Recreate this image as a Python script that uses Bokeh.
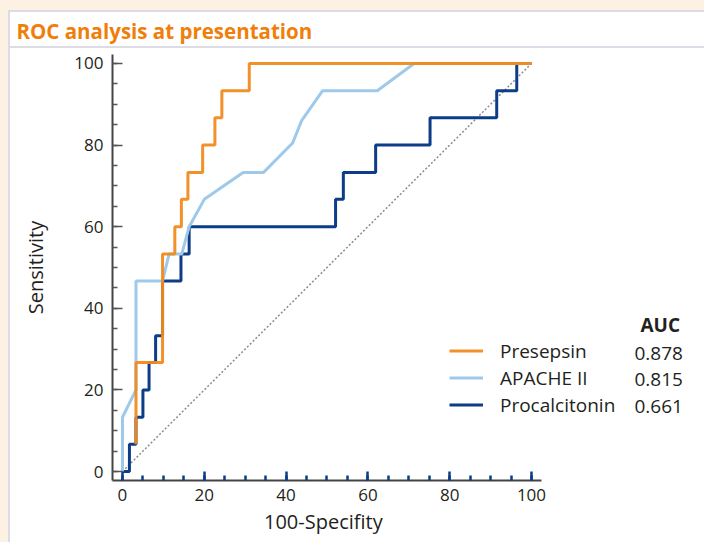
from bokeh.plotting import figure
from bokeh.models import Range1d, SingleIntervalTicker, Legend, LegendItem, Label, Title
from bokeh.embed import file_html
from bokeh.resources import INLINE

# ---------------- data ----------------
presepsin_x = [3.3, 3.3, 9.8, 9.8, 12.8, 12.8, 14.4, 14.4, 16.0, 16.0, 19.6, 19.6, 22.6, 22.6, 24.3, 24.3, 31.0, 31.0, 100]
presepsin_y = [6.7, 26.7, 26.7, 53.3, 53.3, 60.0, 60.0, 66.7, 66.7, 73.3, 73.3, 80.0, 80.0, 86.7, 86.7, 93.3, 93.3, 100, 100]

apache_x = [0, 0, 3.3, 3.3, 9.8, 11.4, 14.5, 16.3, 20.0, 29.5, 34.5, 41.6, 43.8, 48.9, 62.3, 71.3, 100]
apache_y = [0, 13.3, 20.0, 46.7, 46.7, 53.3, 53.3, 60.0, 66.7, 73.3, 73.3, 80.5, 86.0, 93.3, 93.3, 100, 100]

pct_x = [0, 1.7, 1.7, 3.3, 3.3, 5.0, 5.0, 6.5, 6.5, 8.1, 8.1, 9.8, 9.8, 14.3, 14.3, 16.3, 16.3, 52.1, 52.1, 54.0, 54.0, 61.9, 61.9, 75.2, 75.2, 91.5, 91.5, 96.4, 96.4, 100]
pct_y = [0, 0, 6.7, 6.7, 13.3, 13.3, 20.0, 20.0, 26.7, 26.7, 33.3, 33.3, 46.7, 46.7, 53.3, 53.3, 60.0, 60.0, 66.7, 66.7, 73.3, 73.3, 80.0, 80.0, 86.7, 86.7, 93.3, 93.3, 100, 100]

diag_x = [0, 100]
diag_y = [0, 100]

series_names = ["Presepsin", "APACHE II", "Procalcitonin"]
auc_values = ["0.878", "0.815", "0.661"]

title_text = "ROC analysis at presentation"
x_label = "100-Specifity"
y_label = "Sensitivity"

# ---------------- style ----------------
ORANGE = "#f18a1e"
LIGHT = "#9fc9ea"
DARK = "#0d3d87"
TXT = "#231f20"
AXC = "#444444"
PANEL = "#dcdce6"
PEACH = "#fdf1e3"
FONT = "Open Sans"

W, H = 704, 542
FL, FR, FT, FB = 112, 704, 54, 480   # frame edges in canvas px
PXU = 4.09                            # px per unit (x)
X0 = -2.44
X1 = X0 + (FR - FL) / PXU
XAXIS_END = 102.5
Y0, Y1 = -2.2, 102.2


def dx(cx):
    return X0 + (cx - FL) / PXU


def dy(cy):
    return Y0 + (FB - cy) / (FB - FT) * (Y1 - Y0)


p = figure(width=W, height=H, x_range=Range1d(X0, X1), y_range=Range1d(Y0, Y1),
           output_backend="svg", toolbar_location=None,
           min_border_left=FL, min_border_right=W - FR,
           min_border_top=FT, min_border_bottom=H - FB)
p.background_fill_color = "white"
p.border_fill_color = None
p.outline_line_color = None
p.xgrid.visible = False
p.ygrid.visible = False

# page panel decoration (peach page, white panel with lavender borders and header rule)
p.styles = {
    "background-color": PEACH,
    "background-image": ", ".join([f"linear-gradient({PANEL},{PANEL})"] * 3 + ["linear-gradient(#ffffff,#ffffff)"]),
    "background-position": "8px 46px, 8px 10px, 8px 10px, 10px 12px",
    "background-size": "100% 2px, 100% 2px, 2px 100%, 100% 100%",
    "background-repeat": "no-repeat",
}

# title
p.title.text = title_text
p.title.text_font = FONT
p.title.text_font_size = "20.5px"
p.title.text_font_style = "bold"
p.title.text_color = "#ef7f0a"
p.title.align = "left"
p.title.offset = 17 - FL - 1
p.title.standoff = 19

# axes
for ax in (p.xaxis, p.yaxis):
    ax.ticker = SingleIntervalTicker(interval=20, num_minor_ticks=4)
    ax.axis_line_color = AXC
    ax.axis_line_width = 2
    ax.major_tick_out = 0
    ax.minor_tick_out = 0
    ax.major_label_text_font = FONT
    ax.major_label_text_font_size = "17px"
    ax.major_label_text_color = TXT
    ax.axis_label_text_font = FONT
    ax.axis_label_text_font_size = "20px"
    ax.axis_label_text_font_style = "normal"
    ax.axis_label_text_color = TXT

p.xaxis.bounds = (X0, XAXIS_END)
p.xaxis.major_tick_in = 9
p.xaxis.minor_tick_in = 5
p.xaxis.major_tick_line_color = DARK
p.xaxis.minor_tick_line_color = DARK
p.xaxis.major_tick_line_width = 2.5
p.xaxis.minor_tick_line_width = 2.5
p.xaxis.major_label_standoff = 8

# x-axis label, centred under the drawn axis (which is shorter than the frame)
p.add_layout(Title(text=x_label, align="left", offset=263.5 - FL, standoff=4,
                   text_font=FONT, text_font_size="20px", text_font_style="normal",
                   text_color=TXT), "below")

p.yaxis.axis_label = y_label
p.yaxis.major_tick_in = 10
p.yaxis.minor_tick_in = 5
p.yaxis.major_tick_line_color = "#555555"
p.yaxis.minor_tick_line_color = "#555555"
p.yaxis.major_tick_line_width = 1.5
p.yaxis.minor_tick_line_width = 1.5
p.yaxis.major_label_standoff = 9
p.yaxis.axis_label_standoff = 22

# curves
p.line(diag_x, diag_y, line_color="#8c8c8c", line_width=1.5, line_dash="2 2")
r_pct = p.line(pct_x, pct_y, line_color=DARK, line_width=3)
r_apa = p.line(apache_x, apache_y, line_color=LIGHT, line_width=3)
r_pre = p.line(presepsin_x, presepsin_y, line_color=ORANGE, line_width=3, line_alpha=0.95)

renderers = [r_pre, r_apa, r_pct]
legend = Legend(items=[LegendItem(label=n, renderers=[r]) for n, r in zip(series_names, renderers)],
                location=(449 - FL, 62), margin=0, padding=0, spacing=0,
                glyph_width=34, glyph_height=27, label_height=27, label_standoff=17,
                border_line_color=None, background_fill_alpha=0,
                label_text_font=FONT, label_text_font_size="19px", label_text_color=TXT)
p.add_layout(legend, "center")

# AUC column
ROW0 = 352.7   # page y of first legend row centre
PITCH = 26.7
p.add_layout(Label(x=dx(640), y=dy(324.5), text="AUC", text_font=FONT, text_font_size="19px",
                   text_font_style="bold", text_color=TXT, text_baseline="middle"))
for i, v in enumerate(auc_values):
    p.add_layout(Label(x=dx(634), y=dy(ROW0 + i * PITCH), text=v, text_font=FONT,
                       text_font_size="19px", text_color=TXT, text_baseline="middle"))

open("out.html", "w").write(file_html(p, INLINE))
